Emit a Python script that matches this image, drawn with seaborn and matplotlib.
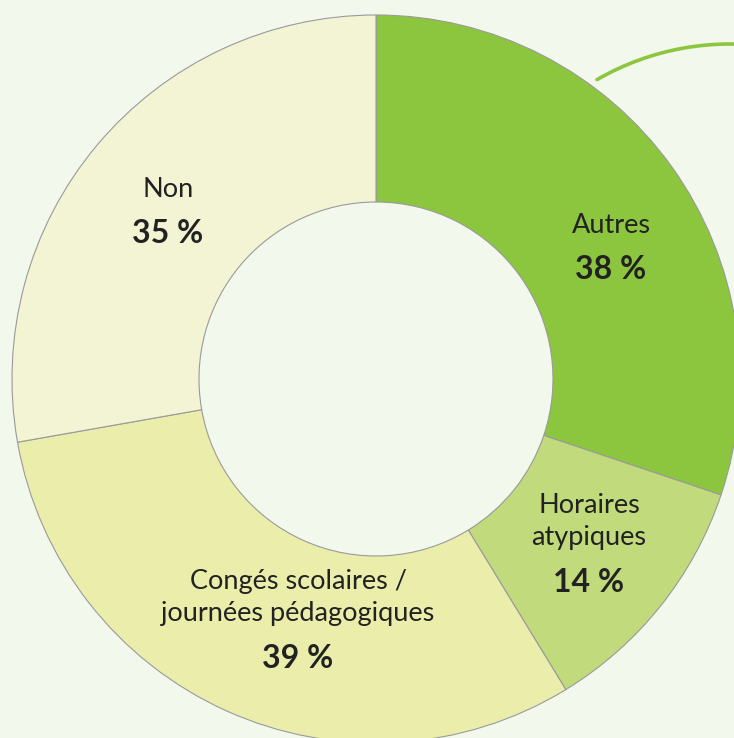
import matplotlib.pyplot as plt
import seaborn as sns
from matplotlib.patches import Arc

# Réponses (les pourcentages ne totalisent pas 100 : choix multiples)
categories = ["Autres", "Horaires\natypiques", "Congés scolaires /\njournées pédagogiques", "Non"]
values = [38, 14, 39, 35]
colors = ["#8CC63E", "#C0DA7C", "#EBEEAB", "#F2F4D4"]

sns.set_theme(style="white")
plt.rcParams["font.family"] = ["Lato", "DejaVu Sans"]

bg = "#F3F8ED"
fig = plt.figure(figsize=(7.34, 7.38), dpi=100, facecolor=bg)
ax = fig.add_axes([0, 0, 1, 1])
ax.set_facecolor(bg)

# donut in pixel-like units
cx, cy, R, w = 376, 359, 364, 187
wedges, _ = ax.pie(
    values,
    radius=R,
    center=(cx, cy),
    startangle=90,
    counterclock=False,
    colors=colors,
    wedgeprops=dict(width=w, edgecolor="#9A9A9A", linewidth=0.8),
)

# label anchor (x, first baseline from top) for each wedge
label_pos = [(611, 233), (589, 513), (298, 589), (168, 197)]
for (x, y), name, v in zip(label_pos, categories, values):
    lines = name.split("\n")
    for i, line in enumerate(lines):
        ax.text(x, 738 - (y + 32.5 * i), line, ha="center", va="baseline",
                fontsize=19.5, color="#222222")
    yb = y + 32.5 * (len(lines) - 1) + 46
    ax.text(x, 738 - yb, f"{v} %", ha="center", va="baseline", fontsize=23,
            fontweight="bold", color="#222222")

# decorative green arc at top right
ax.add_patch(Arc((730, 428), 532, 532, theta1=80, theta2=120, color="#8CC63E",
                 linewidth=2.6, capstyle="round"))

ax.set_xlim(0, 734)
ax.set_ylim(0, 738)
ax.set_aspect("equal")
ax.axis("off")

plt.savefig("out.png", dpi=100, facecolor=bg)
